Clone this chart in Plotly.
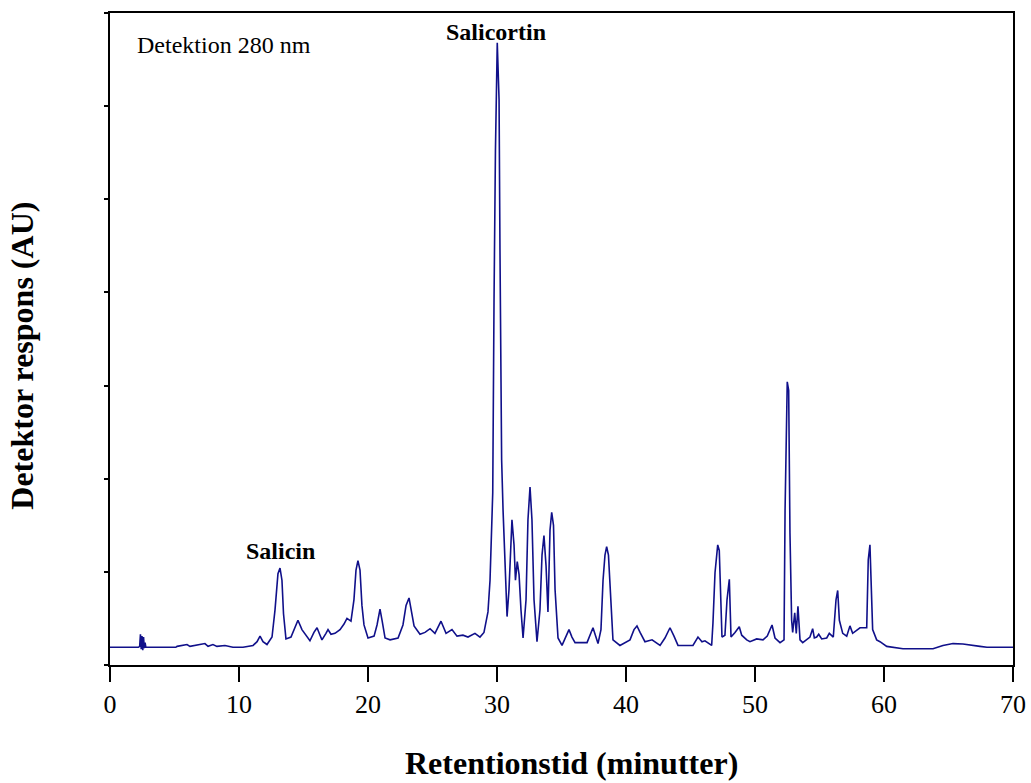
# chromatogram (HPLC, 280 nm) - Salicin / Salicortin

import plotly.graph_objects as go

# retention time (min) and detector response (AU)
time_min = [
    0.0, 2.20, 2.30, 2.36, 2.42, 2.48, 2.54, 2.60, 2.66, 2.72, 2.78,
    5.10, 5.20, 5.97, 6.20, 7.36, 7.60, 7.98, 8.29, 8.91, 9.53, 10.31,
    11.09, 11.40, 11.63, 11.86, 12.17, 12.56, 12.79, 13.02, 13.18, 13.33,
    13.45, 13.64, 14.03, 14.34, 14.57, 14.88, 15.12, 15.50, 15.81, 16.05,
    16.28, 16.43, 16.74, 16.90, 17.13, 17.44, 17.83, 18.14, 18.37, 18.68,
    18.91, 19.07, 19.22, 19.38, 19.53, 19.69, 20.00, 20.47, 20.70, 20.93,
    21.09, 21.32, 21.71, 22.33, 22.71, 22.95, 23.18, 23.33, 23.57, 24.03,
    24.42, 24.81, 25.19, 25.66, 26.05, 26.51, 26.90, 27.36, 27.75, 28.29,
    28.68, 28.99, 29.30, 29.46, 29.67, 29.77, 29.88, 30.02, 30.16, 30.23,
    30.36, 30.47, 30.62, 30.78, 30.93, 31.16, 31.32, 31.43, 31.57, 31.71,
    31.86, 32.02, 32.25, 32.40, 32.56, 32.71, 32.87, 33.10, 33.33, 33.49,
    33.64, 33.80, 33.95, 34.11, 34.24, 34.38, 34.50, 34.73, 35.04, 35.35,
    35.58, 35.81, 36.05, 36.98, 37.21, 37.44, 37.67, 37.83, 38.06, 38.22,
    38.37, 38.50, 38.64, 38.76, 38.99, 39.53, 40.31, 40.62, 40.85, 41.09,
    41.47, 42.02, 42.64, 43.02, 43.41, 43.72, 44.03, 45.19, 45.58, 45.89,
    46.12, 46.64, 46.74, 46.90, 47.11, 47.23, 47.34, 47.44, 47.67, 47.83,
    48.01, 48.14, 48.45, 48.78, 48.97, 49.36, 49.61, 50.13, 50.62, 50.95,
    51.32, 51.55, 51.94, 52.25, 52.33, 52.43, 52.50, 52.61, 52.71, 52.84,
    52.92, 53.08, 53.20, 53.33, 53.49, 53.70, 54.01, 54.26, 54.47, 54.60,
    54.78, 54.94, 55.17, 55.56, 55.76, 56.07, 56.28, 56.41, 56.54, 56.80,
    57.11, 57.36, 57.57, 58.14, 58.66, 58.78, 58.91, 59.02, 59.12, 59.43,
    59.69, 60.21, 61.47, 63.80, 64.57, 65.35, 66.12, 67.44, 67.98, 70.0,
]
signal_au = [
    0.19, 0.19, 0.20, 0.33, 0.17, 0.31, 0.16, 0.30, 0.18, 0.24, 0.19,
    0.19, 0.20, 0.22, 0.20, 0.23, 0.20, 0.22, 0.20, 0.21, 0.19, 0.19,
    0.21, 0.25, 0.31, 0.25, 0.22, 0.30, 0.59, 0.98, 1.04, 0.91,
    0.55, 0.28, 0.30, 0.40, 0.48, 0.38, 0.33, 0.26, 0.35, 0.40,
    0.32, 0.27, 0.34, 0.38, 0.33, 0.34, 0.38, 0.44, 0.50, 0.47,
    0.70, 1.02, 1.12, 1.02, 0.64, 0.43, 0.29, 0.31, 0.43, 0.60,
    0.48, 0.29, 0.27, 0.29, 0.43, 0.64, 0.72, 0.59, 0.42, 0.33,
    0.35, 0.39, 0.34, 0.47, 0.34, 0.38, 0.31, 0.32, 0.30, 0.34,
    0.30, 0.35, 0.57, 0.91, 1.85, 3.92, 5.53, 6.68, 6.07, 4.46,
    2.20, 1.66, 1.02, 0.52, 0.81, 1.56, 1.29, 0.91, 1.11, 0.97,
    0.59, 0.29, 0.70, 1.56, 1.91, 1.56, 0.70, 0.25, 0.59, 1.18,
    1.39, 1.07, 0.57, 1.45, 1.64, 1.50, 0.81, 0.29, 0.21, 0.31,
    0.38, 0.30, 0.24, 0.24, 0.32, 0.40, 0.30, 0.23, 0.38, 0.91,
    1.18, 1.27, 1.18, 0.81, 0.27, 0.21, 0.27, 0.38, 0.42, 0.35,
    0.25, 0.27, 0.21, 0.29, 0.40, 0.31, 0.21, 0.21, 0.30, 0.25,
    0.26, 0.21, 0.45, 0.99, 1.29, 1.23, 0.84, 0.30, 0.32, 0.70,
    0.92, 0.30, 0.35, 0.41, 0.32, 0.27, 0.25, 0.28, 0.27, 0.31,
    0.43, 0.29, 0.24, 0.27, 1.66, 2.63, 3.04, 2.95, 1.42, 0.48,
    0.35, 0.56, 0.34, 0.63, 0.27, 0.24, 0.27, 0.30, 0.39, 0.29,
    0.30, 0.33, 0.28, 0.29, 0.34, 0.30, 0.70, 0.80, 0.48, 0.34,
    0.31, 0.42, 0.34, 0.40, 0.40, 1.13, 1.29, 0.70, 0.38, 0.27,
    0.25, 0.20, 0.175, 0.175, 0.21, 0.23, 0.225, 0.20, 0.19, 0.19,
]

x_ticks = [0, 10, 20, 30, 40, 50, 60, 70]
y_ticks = [0, 1, 2, 3, 4, 5, 6, 7]

# peak labels: (text, time, response)
peak_labels = [("Salicortin", 29.9, 6.80), ("Salicin", 13.2, 1.22)]

serif = "Liberation Serif, Times New Roman, serif"

fig = go.Figure()
fig.add_trace(go.Scatter(
    x=time_min, y=signal_au, mode="lines",
    line=dict(color="#10108a", width=1.6),
    showlegend=False, hoverinfo="skip",
))

for txt, xx, yy in peak_labels:
    fig.add_annotation(x=xx, y=yy, text="<b>%s</b>" % txt, showarrow=False,
                       font=dict(family=serif, size=24, color="black"))

fig.add_annotation(x=1.9, y=6.66, text="Detektion 280 nm", showarrow=False,
                   xanchor="left", font=dict(family=serif, size=24, color="black"))

# axis titles as paper annotations so they sit where the original has them
fig.add_annotation(xref="paper", yref="paper", x=0.511, y=-0.150,
                   text="<b>Retentionstid (minutter)</b>", showarrow=False,
                   yanchor="middle", font=dict(family=serif, size=32, color="black"))
fig.add_annotation(xref="paper", yref="paper", x=-0.097, y=0.475,
                   text="<b>Detektor respons (AU)</b>", showarrow=False, textangle=-90,
                   xanchor="center", yanchor="middle",
                   font=dict(family=serif, size=32, color="black"))

fig.update_layout(
    width=1031, height=783,
    margin=dict(l=110, r=18, t=13, b=118),
    paper_bgcolor="white", plot_bgcolor="white",
    font=dict(family=serif, color="black"),
)
fig.update_xaxes(
    range=[0, 70], tickvals=x_ticks, ticks="outside", ticklen=15, tickwidth=1.5,
    tickcolor="black", showline=True, linecolor="black", linewidth=1.5, mirror=True,
    showgrid=False, zeroline=False, tickfont=dict(family=serif, size=26),
    automargin=False,
)
fig.update_yaxes(
    range=[0, 7], tickvals=y_ticks, ticks="outside", ticklen=4, tickwidth=1.5,
    tickcolor="black", showline=True, linecolor="black", linewidth=1.5, mirror=True,
    showgrid=False, zeroline=False, showticklabels=False, automargin=False,
)

# drop the page's default body margin so the figure sits at the window corner
fig.write_html("out.html", config={"displayModeBar": False},
               post_script="document.body.style.margin='0px';")
